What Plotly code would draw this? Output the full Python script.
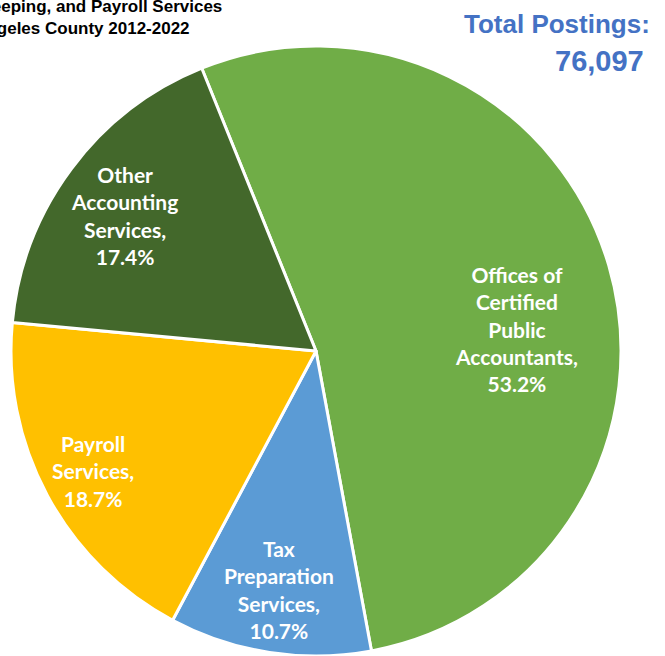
import math
import plotly.graph_objects as go

categories = ["Offices of Certified Public Accountants", "Tax Preparation Services",
              "Payroll Services", "Other Accounting Services"]
label_lines = [["Offices of", "Certified", "Public", "Accountants,"],
               ["Tax", "Preparation", "Services,"],
               ["Payroll", "Services,"],
               ["Other", "Accounting", "Services,"]]
shares = [53.2, 10.7, 18.7, 17.4]
colors = ["#70AD47", "#5B9BD5", "#FFC000", "#43682B"]
title_lines = ["Job Postings for Accounting, Tax Preparation, Bookkeeping, and Payroll Services",
               "in Los Angeles County 2012-2022"]
total_text = ["Total Postings:", "76,097"]

# label placement styling (radial fraction, angular nudge in degrees)
label_radius = [0.66, 0.79, 0.83, 0.77]
label_nudge = [10, 0, 0, -1.5]

W, H = 665, 656
ROT = -22
dom_x = [11 / W, 621 / W]
dom_y = [0, 610 / H]
R = 305

fig = go.Figure(go.Pie(
    labels=categories, values=shares, sort=False, direction="clockwise", rotation=ROT,
    marker=dict(colors=colors, line=dict(color="white", width=3)),
    textinfo="none", domain=dict(x=dom_x, y=dom_y),
    showlegend=False, hoverinfo="label+percent",
))

cx = (dom_x[0] + dom_x[1]) / 2 * W
cy = H - (dom_y[0] + dom_y[1]) / 2 * H
total = sum(shares)
cum = 0.0
for lines, v, f, nud in zip(label_lines, shares, label_radius, label_nudge):
    mid = ROT + (cum + v / 2) / total * 360 + nud
    cum += v
    px = cx + f * R * math.sin(math.radians(mid))
    py = cy - f * R * math.cos(math.radians(mid))
    fig.add_annotation(x=px / W, y=1 - py / H, xref="paper", yref="paper",
                       xanchor="center", yanchor="middle", showarrow=False,
                       text="<b>" + "<br>".join(lines + [f"{v:.1f}%"]) + "</b>",
                       font=dict(family="Lato", size=21, color="white"))

tfont = "Liberation Sans"
fig.add_annotation(x=224 / W, y=1 - 7 / H, xref="paper", yref="paper", xanchor="right", yanchor="middle",
                   text="<b>" + title_lines[0] + "</b>", showarrow=False,
                   font=dict(family=tfont, size=17, color="black"))
fig.add_annotation(x=192 / W, y=1 - 29 / H, xref="paper", yref="paper", xanchor="right", yanchor="middle",
                   text="<b>" + title_lines[1] + "</b>", showarrow=False,
                   font=dict(family=tfont, size=17, color="black"))
fig.add_annotation(x=652 / W, y=1 - 24 / H, xref="paper", yref="paper", xanchor="right", yanchor="middle",
                   text="<b>" + total_text[0] + "</b>", showarrow=False,
                   font=dict(family=tfont, size=26, color="#4472C4"))
fig.add_annotation(x=646 / W, y=1 - 61 / H, xref="paper", yref="paper", xanchor="right", yanchor="middle",
                   text="<b>" + total_text[1] + "</b>", showarrow=False,
                   font=dict(family=tfont, size=29, color="#4472C4"))
fig.update_layout(width=W, height=H, margin=dict(l=0, r=0, t=0, b=0),
                  paper_bgcolor="white", plot_bgcolor="white")
fig.write_html("out.html", config={"displayModeBar": False},
               post_script="document.body.style.margin='0';")
